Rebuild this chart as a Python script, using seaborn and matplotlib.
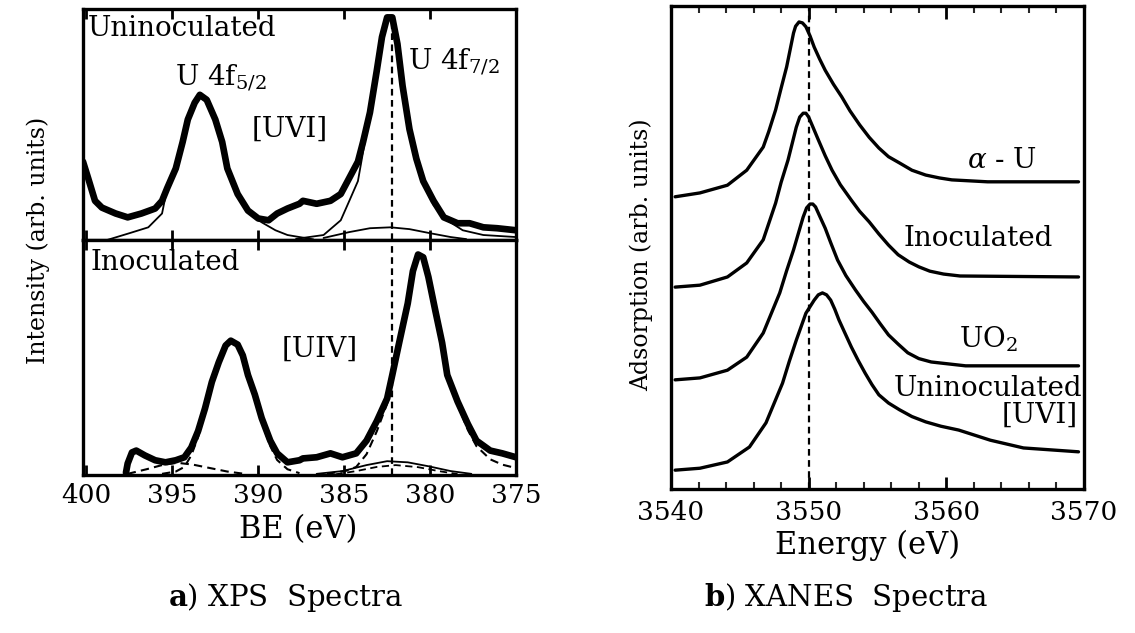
import matplotlib
matplotlib.use("Agg")
import matplotlib.pyplot as plt
import seaborn as sns
from matplotlib.ticker import MultipleLocator

# ---------------- data ----------------
# XPS, Uninoculated (upper panel) - measured spectrum
unin_be = [400.2, 399.9, 399.5, 399.1, 398.3, 397.6, 396.8, 396.0, 395.6, 395.3, 394.8,
           394.4, 394.1, 393.7, 393.4, 393.0, 392.5, 392.1, 391.8, 391.2, 390.6, 390.0,
           389.4, 388.9, 388.3, 387.6, 387.4, 386.6, 385.8, 385.2, 384.8, 384.2, 383.9,
           383.5, 383.1, 382.8, 382.5, 382.2, 381.9, 381.6, 381.2, 380.8, 380.4, 379.8,
           379.2, 378.4, 377.7, 376.9, 376.1, 375.0]
unin_int = [34.6, 27.3, 17.3, 14.3, 11.7, 10.0, 11.7, 13.9, 17.3, 22.9, 31.6,
            43.3, 53.2, 60.6, 64.1, 61.9, 53.2, 43.3, 31.6, 20.3, 13.0, 9.5,
            8.7, 11.7, 13.9, 16.0, 17.3, 16.0, 17.3, 20.3, 26.0, 34.6, 43.3,
            56.3, 74.9, 89.6, 98.3, 98.3, 86.6, 68.0, 48.9, 35.9, 26.0, 17.3,
            10.0, 7.4, 7.4, 5.6, 5.2, 4.3]
# fitted components (thin solid lines)
unin_fit1_be = [398.8, 397.5, 396.4, 395.6, 395.3, 394.8, 394.4, 394.1, 393.7, 393.4, 393.0,
                392.5, 392.1, 391.8, 391.2, 390.6, 389.8, 389.0, 388.3, 387.6, 386.8]
unin_fit1_int = [0.0, 3.0, 5.6, 11.7, 22.9, 31.6, 43.3, 53.2, 60.6, 64.1, 61.9,
                 53.2, 43.3, 31.6, 20.3, 13.0, 7.8, 4.3, 2.2, 1.3, 0.3]
unin_fit2_be = [387.8, 386.2, 385.2, 384.7, 384.2, 384.0, 383.5, 383.1, 382.8, 382.5, 382.2,
                381.9, 381.6, 381.2, 380.8, 380.4, 379.8, 379.0, 378.1, 376.9, 375.0]
unin_fit2_int = [0.5, 2.2, 8.7, 17.3, 26.0, 34.6, 56.3, 74.9, 89.6, 98.3, 98.3,
                 86.6, 68.0, 48.9, 35.9, 26.0, 15.5, 8.7, 4.3, 2.2, 1.3]
unin_fit3_be = [386.2, 384.7, 383.5, 382.3, 381.2, 380.0, 378.8, 377.9]
unin_fit3_int = [0.9, 3.5, 5.2, 5.6, 4.8, 3.0, 1.3, 0.4]

# XPS, Inoculated (lower panel) - measured spectrum
inoc_be = [397.7, 397.6, 397.35, 397.1, 396.6, 396.0, 395.4, 394.8, 394.3, 393.9, 393.5,
           393.1, 392.7, 392.3, 391.9, 391.6, 391.2, 390.9, 390.6, 390.2, 389.8, 389.3,
           388.9, 388.3, 387.6, 387.4, 386.6, 385.8, 385.1, 384.3, 383.7, 383.1, 382.5,
           382.2, 381.8, 381.3, 381.0, 380.7, 380.4, 380.1, 379.7, 379.3, 379.0, 378.4,
           377.8, 377.3, 376.5, 375.8, 375.0]
inoc_int = [1.0, 5.0, 9.8, 10.6, 8.5, 6.4, 5.5, 6.4, 7.7, 11.9, 19.1,
            28.9, 40.4, 48.9, 56.2, 58.3, 56.6, 51.9, 43.4, 34.9, 24.7, 14.9,
            9.4, 5.5, 6.4, 7.2, 7.7, 9.4, 7.7, 9.4, 14.9, 23.4, 33.2,
            43.4, 57.4, 74.5, 88.5, 95.7, 94.5, 86.0, 71.5, 57.4, 43.4, 31.9,
            22.1, 14.9, 10.6, 9.4, 7.7]
# fitted components (dashed / thin lines)
inoc_sat_be = [397.6, 396.5, 395.5, 394.7, 393.8, 392.8, 391.8, 390.8]
inoc_sat_int = [0.5, 2.5, 4.5, 5.3, 4.5, 3.0, 1.5, 0.5]
inoc_fit1_be = [395.6, 394.8, 394.3, 393.9, 393.5, 393.1, 392.7, 392.3, 391.9, 391.6, 391.2,
                390.9, 390.6, 390.2, 389.8, 389.3, 388.9, 388.3, 387.6]
inoc_fit1_int = [0.5, 1.5, 3.5, 8.5, 16.5, 27.5, 39.5, 48.5, 56.0, 58.0, 56.4,
                 51.5, 42.8, 33.8, 23.0, 12.5, 6.5, 2.5, 0.8]
inoc_fit2_be = [386.0, 384.9, 384.3, 383.7, 383.1, 382.5, 382.2, 381.8, 381.3, 381.0, 380.7,
                380.4, 380.1, 379.7, 379.3, 379.0, 378.4, 377.8, 377.3, 376.5, 375.8, 375.0]
inoc_fit2_int = [0.5, 1.8, 3.5, 9.0, 19.0, 31.0, 42.0, 57.0, 74.0, 88.0, 95.2,
                 94.0, 85.5, 71.0, 56.8, 42.8, 30.5, 19.5, 12.5, 6.8, 4.5, 3.0]
inoc_fit3_be = [386.6, 385.1, 383.7, 382.5, 381.3, 380.1, 378.8, 377.6]
inoc_fit3_int = [0.5, 1.7, 4.3, 6.0, 5.5, 3.8, 1.7, 0.5]
inoc_fit4_be = [385.5, 384.3, 383.1, 382.0, 380.7, 379.5, 378.4]
inoc_fit4_int = [0.3, 1.7, 3.5, 4.3, 3.4, 1.7, 0.4]

xps_ref_be = 382.2

# XANES spectra (vertically offset, arb. units)
alpha_e = [3540.3, 3542.1, 3544.1, 3545.5, 3546.7, 3547.1, 3547.6, 3548.0, 3548.4, 3548.9,
           3549.05, 3549.3, 3549.55, 3549.8, 3550.1, 3550.4, 3550.8, 3551.2, 3551.8, 3552.4,
           3553.0, 3553.7, 3554.4, 3555.1, 3555.8, 3556.6, 3557.5, 3558.5, 3559.5, 3560.4,
           3563.0, 3569.6]
alpha_y = [6.05, 6.13, 6.29, 6.60, 7.08, 7.40, 7.85, 8.30, 8.74, 9.44,
           9.58, 9.67, 9.65, 9.57, 9.38, 9.15, 8.90, 8.67, 8.38, 8.12,
           7.83, 7.54, 7.28, 7.06, 6.88, 6.75, 6.60, 6.50, 6.44, 6.40,
           6.36, 6.36]
inocx_e = [3540.3, 3542.1, 3544.1, 3545.5, 3546.7, 3547.6, 3548.0, 3548.5, 3549.1, 3549.35,
           3549.6, 3549.8, 3550.0, 3550.3, 3550.7, 3551.2, 3551.7, 3552.3, 3553.1, 3553.7,
           3554.4, 3555.1, 3555.8, 3556.5, 3557.3, 3558.0, 3558.8, 3559.8, 3561.0, 3569.6]
inocx_y = [4.18, 4.22, 4.39, 4.68, 5.16, 5.92, 6.35, 6.81, 7.49, 7.70,
           7.78, 7.78, 7.70, 7.50, 7.23, 6.90, 6.60, 6.30, 5.98, 5.75,
           5.53, 5.28, 5.05, 4.85, 4.70, 4.60, 4.51, 4.45, 4.41, 4.39]
uo2_e = [3540.3, 3542.1, 3544.1, 3545.5, 3546.7, 3547.9, 3548.4, 3548.9, 3549.6, 3549.85,
         3550.1, 3550.3, 3550.5, 3550.8, 3551.2, 3551.6, 3552.1, 3552.7, 3553.4, 3554.0,
         3554.6, 3555.2, 3555.8, 3556.5, 3557.2, 3558.0, 3558.9, 3561.4, 3569.6]
uo2_y = [2.26, 2.30, 2.46, 2.73, 3.23, 4.06, 4.52, 4.95, 5.63, 5.82,
         5.90, 5.90, 5.84, 5.65, 5.40, 5.10, 4.74, 4.42, 4.12, 3.88,
         3.66, 3.42, 3.19, 3.00, 2.82, 2.70, 2.63, 2.55, 2.55]
uninx_e = [3540.3, 3542.1, 3544.1, 3545.7, 3546.9, 3548.1, 3548.6, 3549.1, 3549.8, 3550.4,
           3550.7, 3551.0, 3551.3, 3551.6, 3551.9, 3552.2, 3552.6, 3553.1, 3553.6, 3554.1,
           3554.6, 3555.1, 3555.8, 3556.6, 3557.5, 3558.5, 3559.6, 3560.9, 3563.2, 3565.6,
           3569.6]
uninx_y = [0.39, 0.43, 0.56, 0.87, 1.37, 2.19, 2.65, 3.08, 3.64, 3.91,
           4.02, 4.06, 4.02, 3.91, 3.72, 3.50, 3.25, 2.94, 2.66, 2.40,
           2.16, 1.95, 1.78, 1.64, 1.50, 1.39, 1.30, 1.22, 1.01, 0.85,
           0.77]
xanes_ref_e = 3550.0

be_ticks = [400, 395, 390, 385, 380, 375]
e_ticks = [3540, 3550, 3560, 3570]

# ---------------- styling ----------------
sns.set_theme(style="white")
plt.rcParams["font.family"] = ["DejaVu Serif"]
plt.rcParams["mathtext.fontset"] = "dejavuserif"
plt.rcParams["axes.linewidth"] = 2.4
plt.rcParams["axes.edgecolor"] = "black"

W, H = 1135, 633
fig = plt.figure(figsize=(W / 100, H / 100), dpi=100)
fig.patch.set_facecolor("white")


def fx(px):
    return px / W


def fy(py):
    return 1 - py / H


ax_up = fig.add_axes([fx(83), fy(240), (516 - 83) / W, (240 - 9) / H])
ax_lo = fig.add_axes([fx(83), fy(475), (516 - 83) / W, (475 - 240) / H])
ax_r = fig.add_axes([fx(671), fy(489), (1084 - 671) / W, (489 - 6) / H])


def curve(ax, x, y, lw, ls="-"):
    sns.lineplot(x=x, y=y, ax=ax, sort=False, estimator=None, color="black",
                 linewidth=lw, linestyle=ls, legend=False,
                 solid_joinstyle="round", solid_capstyle="round")


dash = (0, (4, 2.5))

# upper XPS
curve(ax_up, unin_fit1_be, unin_fit1_int, 1.3)
curve(ax_up, unin_fit2_be, unin_fit2_int, 1.3)
curve(ax_up, unin_fit3_be, unin_fit3_int, 1.3)
curve(ax_up, unin_be, unin_int, 4.8)
ax_up.axvline(xps_ref_be, ymin=0, ymax=0.95, color="black", lw=1.6, ls=(0, (3, 2)))

# lower XPS
curve(ax_lo, inoc_sat_be, inoc_sat_int, 1.5, dash)
curve(ax_lo, inoc_fit1_be, inoc_fit1_int, 1.5, dash)
curve(ax_lo, inoc_fit2_be, inoc_fit2_int, 1.5, dash)
curve(ax_lo, inoc_fit3_be, inoc_fit3_int, 1.3)
curve(ax_lo, inoc_fit4_be, inoc_fit4_int, 1.3, dash)
curve(ax_lo, inoc_be, inoc_int, 4.8)
ax_lo.axvline(xps_ref_be, color="black", lw=1.6, ls=(0, (3, 2)))

for ax in (ax_up, ax_lo):
    ax.set_xlim(400.2, 375.0)
    ax.set_ylim(0, 102)
    ax.set_xticks(be_ticks)
    ax.set_yticks([])
    ax.set_xlabel("")
    ax.set_ylabel("")
    ax.tick_params(axis="x", direction="in", top=True, bottom=True, length=7, width=2,
                   labelsize=19, pad=6, colors="black")
    for s in ax.spines.values():
        s.set_linewidth(2.4)
ax_up.tick_params(axis="x", labelbottom=False)
ax_lo.set_xticklabels([str(t) for t in be_ticks])

# XANES
for xe, ye in ((alpha_e, alpha_y), (inocx_e, inocx_y), (uo2_e, uo2_y), (uninx_e, uninx_y)):
    curve(ax_r, xe, ye, 2.4)
ax_r.axvline(xanes_ref_e, color="black", lw=1.6, ls=(0, (3, 2)))
ax_r.set_xlim(3540, 3570)
ax_r.set_ylim(0, 10)
ax_r.set_xticks(e_ticks)
ax_r.set_xticklabels([str(t) for t in e_ticks])
ax_r.xaxis.set_minor_locator(MultipleLocator(2))
ax_r.set_yticks([])
ax_r.set_xlabel("")
ax_r.set_ylabel("")
ax_r.tick_params(axis="x", which="major", direction="in", top=True, bottom=True, length=9,
                 width=2, labelsize=19, pad=8, colors="black")
ax_r.tick_params(axis="x", which="minor", direction="in", top=True, bottom=True, length=5,
                 width=1.5)
for s in ax_r.spines.values():
    s.set_linewidth(2.4)

# ---------------- texts ----------------
T = dict(color="black")
fig.text(fx(88), fy(28), "Uninoculated", fontsize=20, ha="left", va="center", **T)
fig.text(fx(175), fy(86), r"U 4f$_{5/2}$", fontsize=20, ha="left", va="baseline", **T)
fig.text(fx(252), fy(129), "[UVI]", fontsize=20, ha="left", va="center", **T)
fig.text(fx(408), fy(70), r"U 4f$_{7/2}$", fontsize=20, ha="left", va="baseline", **T)
fig.text(fx(90), fy(263), "Inoculated", fontsize=20, ha="left", va="center", **T)
fig.text(fx(282), fy(349), "[UIV]", fontsize=20, ha="left", va="center", **T)

fig.text(fx(1002), fy(160), r"$\alpha$ - U", fontsize=20, ha="center", va="center", **T)
fig.text(fx(978), fy(238), "Inoculated", fontsize=20, ha="center", va="center", **T)
fig.text(fx(988), fy(347), r"UO$_2$", fontsize=20, ha="center", va="baseline", **T)
fig.text(fx(988), fy(388), "Uninoculated", fontsize=20, ha="center", va="center", **T)
fig.text(fx(1040), fy(415), "[UVI]", fontsize=20, ha="center", va="center", **T)

fig.text(fx(298), fy(530), "BE (eV)", fontsize=22, ha="center", va="center", **T)
fig.text(fx(868), fy(545), "Energy (eV)", fontsize=22, ha="center", va="center", **T)
fig.text(fx(38), fy(240), "Intensity (arb. units)", fontsize=17, rotation=90,
         ha="center", va="center", **T)
fig.text(fx(641), fy(255), "Adsorption (arb. units)", fontsize=17, rotation=90,
         ha="center", va="center", **T)

fig.text(fx(285), fy(597), r"$\mathbf{a}$) XPS  Spectra", fontsize=21, ha="center",
         va="center", **T)
fig.text(fx(846), fy(597), r"$\mathbf{b}$) XANES  Spectra", fontsize=21, ha="center",
         va="center", **T)

fig.savefig("out.png", dpi=100, facecolor="white")
